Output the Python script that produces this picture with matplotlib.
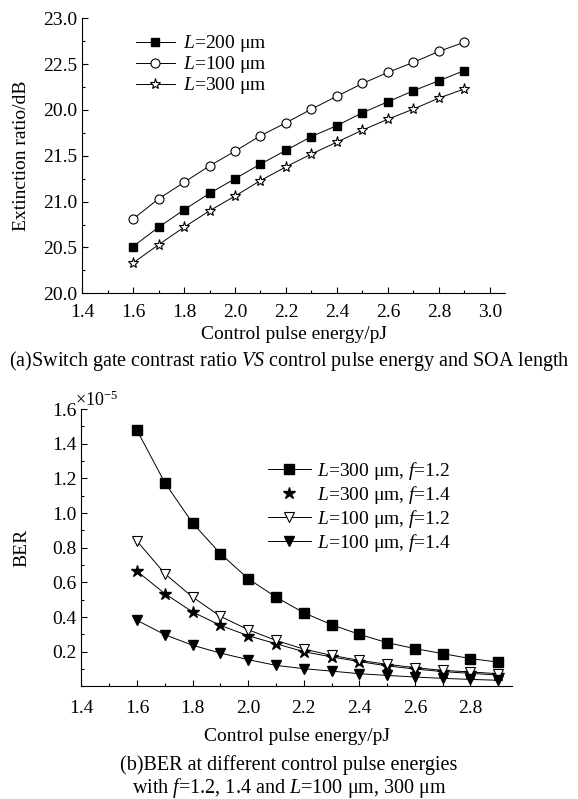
import numpy as np
import matplotlib.pyplot as plt
from matplotlib.lines import Line2D
from matplotlib.ticker import MultipleLocator

plt.rcParams['font.family'] = ['Liberation Serif', 'DejaVu Serif']
plt.rcParams['mathtext.fontset'] = 'custom'
plt.rcParams['mathtext.rm'] = 'Liberation Serif'
plt.rcParams['mathtext.it'] = 'Liberation Serif:italic'

# (a) extinction ratio vs control pulse energy
energy_a = [1.6, 1.7, 1.8, 1.9, 2.0, 2.1, 2.2, 2.3, 2.4, 2.5, 2.6, 2.7, 2.8, 2.9]
er_L200 = [20.51, 20.72, 20.91, 21.09, 21.25, 21.41, 21.56, 21.71, 21.83, 21.97, 22.09, 22.21, 22.32, 22.43]
er_L100 = [20.81, 21.03, 21.21, 21.39, 21.55, 21.72, 21.86, 22.01, 22.15, 22.29, 22.41, 22.52, 22.64, 22.74]
er_L300 = [20.33, 20.53, 20.72, 20.90, 21.06, 21.23, 21.38, 21.52, 21.65, 21.78, 21.90, 22.01, 22.13, 22.23]
yticks_a = [20.0, 20.5, 21.0, 21.5, 22.0, 22.5, 23.0]
ylabels_a = ["20.0", "20.5", "21.0", "21.5", "20.0", "22.5", "23.0"]

# (b) BER (x1e-5) vs control pulse energy
energy_b = [1.6, 1.7, 1.8, 1.9, 2.0, 2.1, 2.2, 2.3, 2.4, 2.5, 2.6, 2.7, 2.8, 2.9]
ber_300_12 = [1.477, 1.175, 0.942, 0.766, 0.621, 0.515, 0.425, 0.356, 0.300, 0.252, 0.218, 0.189, 0.160, 0.140]
ber_300_14 = [0.664, 0.535, 0.429, 0.352, 0.292, 0.246, 0.200, 0.170, 0.143, 0.118, 0.100, 0.085, 0.075, 0.065]
ber_100_12 = [0.838, 0.650, 0.515, 0.404, 0.327, 0.265, 0.215, 0.179, 0.150, 0.127, 0.108, 0.092, 0.083, 0.073]
ber_100_14 = [0.381, 0.298, 0.237, 0.192, 0.154, 0.121, 0.102, 0.088, 0.073, 0.063, 0.054, 0.046, 0.040, 0.035]

FS = 14

fig = plt.figure(figsize=(5.78, 7.99), dpi=100)

# ---- top panel
ax1 = fig.add_axes([0.142, 0.633, 0.732, 0.344])
ax1.plot(energy_a, er_L200, '-', color='k', lw=0.7, marker='s', ms=5.5, mfc='k', mec='k',
         label=r"$\it{L}$=200 μm")
ax1.plot(energy_a, er_L100, '-', color='k', lw=0.7, marker='o', ms=6.5, mfc='white', mec='k', mew=0.8,
         label=r"$\it{L}$=100 μm")
ax1.plot(energy_a, er_L300, '-', color='k', lw=0.7, marker='*', ms=8, mfc='white', mec='k', mew=0.8,
         label=r"$\it{L}$=300 μm")
ax1.set_xlim(1.4, 3.06)
ax1.set_ylim(20.0, 23.0)
ax1.set_xticks([1.4, 1.6, 1.8, 2.0, 2.2, 2.4, 2.6, 2.8, 3.0])
ax1.xaxis.set_minor_locator(MultipleLocator(0.1))
ax1.set_yticks(yticks_a)
ax1.set_yticklabels(ylabels_a)
ax1.yaxis.set_minor_locator(MultipleLocator(0.25))
ax1.set_xlabel("Control pulse energy/pJ", fontsize=FS, labelpad=3)
ax1.set_ylabel("Extinction ratio/dB", fontsize=FS, labelpad=9)
ax1.legend(loc='upper left', bbox_to_anchor=(0.095, 0.995), frameon=False, fontsize=FS,
           handlelength=2.0, handletextpad=0.4, labelspacing=0.0, borderaxespad=0.3)
ax1.tick_params(axis='x', which='major', pad=8)

# ---- bottom panel
ax2 = fig.add_axes([0.141, 0.141, 0.745, 0.347])
ax2.plot(energy_b, ber_300_12, '-', color='k', lw=0.7, marker='s', ms=6.5, mfc='k', mec='k')
ax2.plot(energy_b, ber_300_14, '-', color='k', lw=0.7, marker='*', ms=9, mfc='k', mec='k')
ax2.plot(energy_b, ber_100_12, '-', color='k', lw=0.7, marker='v', ms=7.5, mfc='white', mec='k', mew=0.8)
ax2.plot(energy_b, ber_100_14, '-', color='k', lw=0.7, marker='v', ms=7.5, mfc='k', mec='k')
ax2.set_xlim(1.4, 2.95)
ax2.set_ylim(0, 1.6)
ax2.set_xticks([1.4, 1.6, 1.8, 2.0, 2.2, 2.4, 2.6, 2.8])
ax2.xaxis.set_minor_locator(MultipleLocator(0.1))
ax2.set_yticks([0.2, 0.4, 0.6, 0.8, 1.0, 1.2, 1.4, 1.6])
ax2.set_yticklabels(["0.2", "0.4", "0.6", "0.8", "1.0", "1.2", "1.4", "1.6"])
ax2.yaxis.set_minor_locator(MultipleLocator(0.1))
ax2.set_xlabel("Control pulse energy/pJ", fontsize=FS, labelpad=8)
ax2.set_ylabel("BER", fontsize=FS, labelpad=16)
ax2.text(-0.015, 0.995, r"×10$^{-5}$", transform=ax2.transAxes, fontsize=13, ha='left', va='bottom')
legend_handles = [
    Line2D([], [], color='k', lw=0.7, marker='s', ms=6.5, mfc='k', mec='k'),
    Line2D([], [], color='k', lw=0, marker='*', ms=9, mfc='k', mec='k'),
    Line2D([], [], color='k', lw=0.7, marker='v', ms=7.5, mfc='white', mec='k', mew=0.8),
    Line2D([], [], color='k', lw=0.7, marker='v', ms=7.5, mfc='k', mec='k'),
]
legend_labels = [r"$\it{L}$=300 μm, $\it{f}$=1.2", r"$\it{L}$=300 μm, $\it{f}$=1.4",
                 r"$\it{L}$=100 μm, $\it{f}$=1.2", r"$\it{L}$=100 μm, $\it{f}$=1.4"]
ax2.legend(legend_handles, legend_labels, loc='upper left', bbox_to_anchor=(0.415, 0.845), frameon=False,
           fontsize=FS, handlelength=2.2, handletextpad=0.3, labelspacing=0.1, borderaxespad=0.0)
ax2.tick_params(axis='x', which='major', pad=10)

for ax in (ax1, ax2):
    ax.spines['top'].set_visible(False)
    ax.spines['right'].set_visible(False)
    ax.tick_params(which='both', direction='in', labelsize=FS, width=0.8)
    ax.tick_params(which='major', length=4)
    ax.tick_params(which='minor', length=2.5)

fig.text(0.50, 0.548, r"(a)Switch gate contrast ratio $\it{VS}$ control pulse energy and SOA length",
         fontsize=14.5, ha='center', va='center')
fig.text(0.50, 0.043, "(b)BER at different control pulse energies", fontsize=14.5, ha='center', va='center')
fig.text(0.50, 0.014, r"with $\it{f}$=1.2, 1.4 and $\it{L}$=100 μm, 300 μm", fontsize=14.5,
         ha='center', va='center')

fig.savefig("out.png", dpi=100)
